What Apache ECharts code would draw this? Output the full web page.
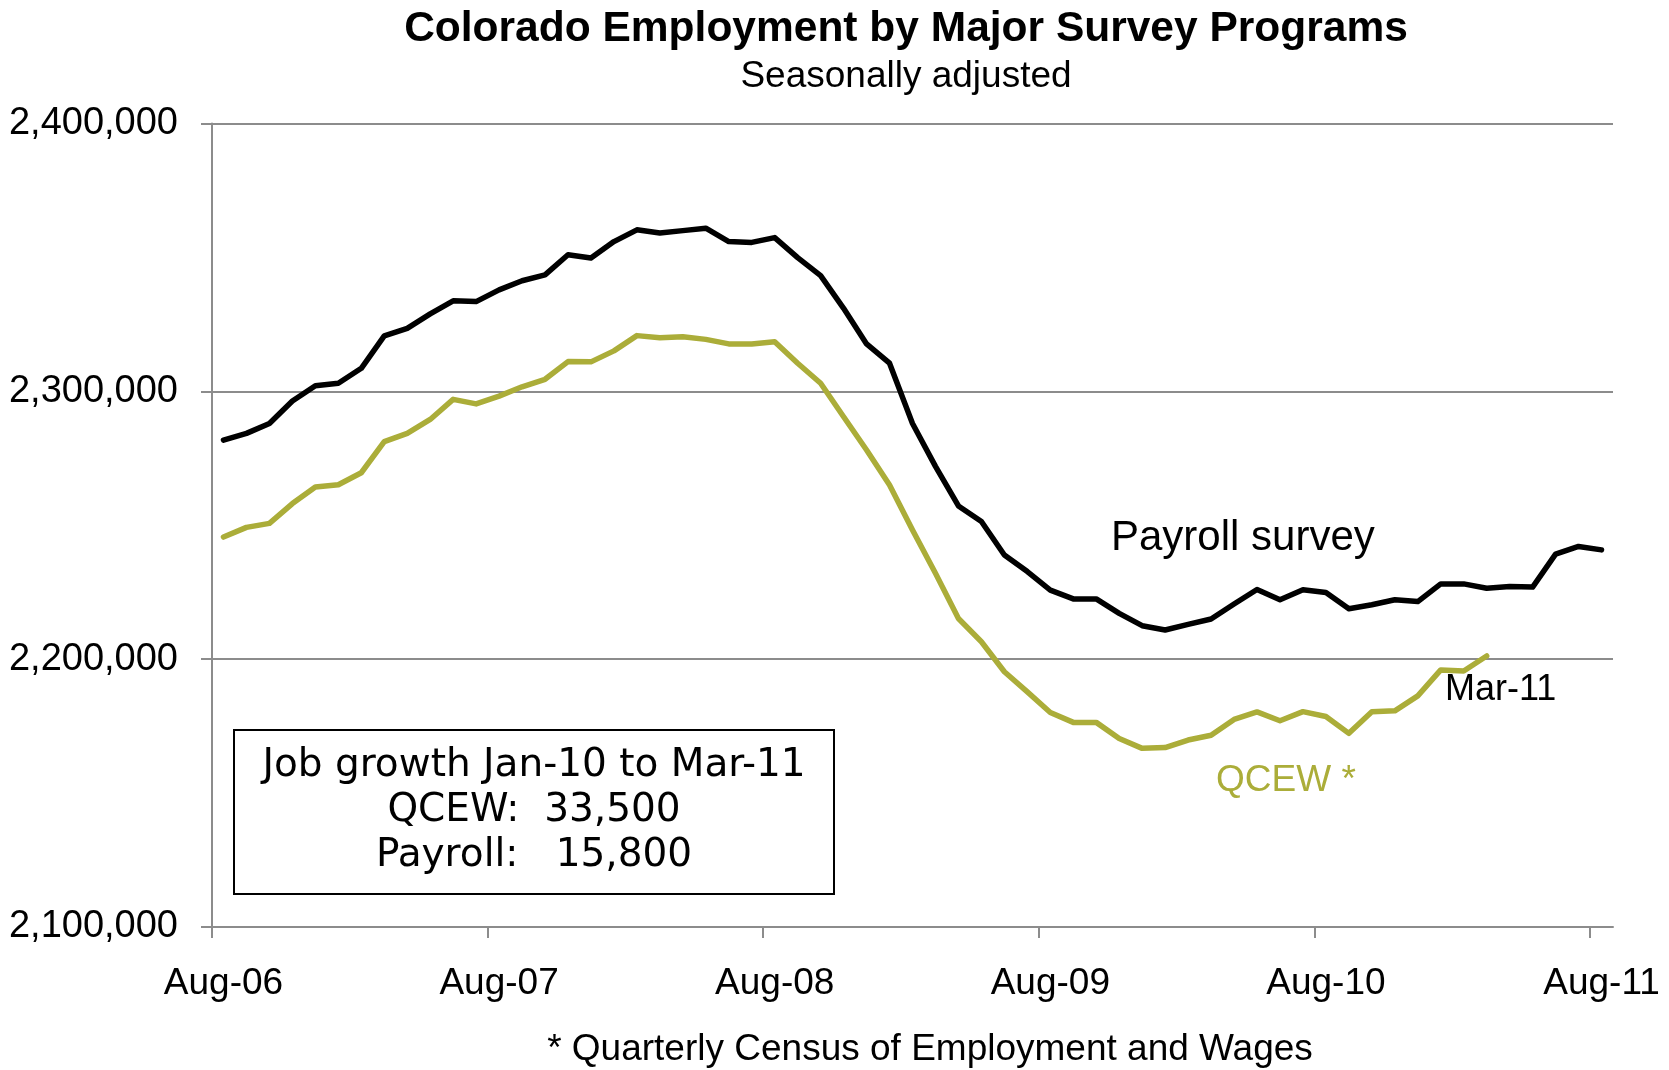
<!DOCTYPE html>
<html>
<head>
<meta charset="utf-8">
<title>Colorado Employment by Major Survey Programs</title>
<script src="https://cdn.jsdelivr.net/npm/echarts@6/dist/echarts.min.js"></script>
<style>
  html, body { margin: 0; padding: 0; background: #fff; }
  #chart { width: 1669px; height: 1070px; }
</style>
</head>
<body>
<div id="chart"></div>
<script>
// Monthly, Aug-06 .. Aug-11 (payroll) and Aug-06 .. Mar-11 (QCEW)
const tickLabels = ['Aug-06', 'Aug-07', 'Aug-08', 'Aug-09', 'Aug-10', 'Aug-11'];
const tickMonths = [0, 12, 24, 36, 48, 60];
const monthCount = 61;

const payroll = [
  2281800, 2284300, 2288000, 2296400, 2302100, 2303000, 2308600, 2320700, 2323500, 2328900, 2333800, 2333500,
  2337900, 2341300, 2343500, 2351000, 2349800, 2355900, 2360300, 2359100, 2360000, 2360900, 2355900, 2355600,
  2357400, 2349900, 2343200, 2331000, 2317700, 2310500, 2288000, 2272000, 2257200, 2251400, 2238900, 2232700,
  2225800, 2222500, 2222500, 2217100, 2212500, 2210900, 2213000, 2215000, 2220600, 2226000, 2222200, 2225900,
  2224900, 2218800, 2220300, 2222200, 2221500, 2228100, 2228100, 2226500, 2227100, 2226900, 2239200, 2242100,
  2240800
];

const qcew = [
  2245600, 2249200, 2250700, 2258100, 2264300, 2265100, 2269600, 2281200, 2284300, 2289500, 2297000, 2295300,
  2298200, 2301700, 2304500, 2311100, 2311000, 2315100, 2320800, 2320000, 2320400, 2319400, 2317700, 2317700,
  2318500, 2310500, 2303000, 2290500, 2278100, 2265000, 2248200, 2232100, 2215200, 2206500, 2195300, 2187800,
  2180100, 2176400, 2176400, 2170400, 2166700, 2167000, 2169800, 2171600, 2177500, 2180300, 2177000, 2180400,
  2178600, 2172300, 2180400, 2180700, 2186300, 2196000, 2195600, 2201200
];

const boxLines = ['Job growth Jan-10 to Mar-11', 'QCEW:  33,500', 'Payroll:   15,800'];

const COLORS = {
  payroll: '#000000',
  qcew: '#abad39',
  grid: '#8c8c8c'
};
const FONT = 'Liberation Sans, Arial, sans-serif';

// points (and month labels) sit in the middle of each month slot
function toPoints(values) {
  return values.map(function (v, i) { return [i + 0.5, v]; });
}
const labelMonths = tickMonths.map(function (m) { return m + 0.5; });

const chart = echarts.init(document.getElementById('chart'), null, { renderer: 'canvas' });

const option = {
  backgroundColor: '#ffffff',
  animation: false,
  grid: { left: 212, right: 56, top: 123.5, bottom: 143, containLabel: false },
  xAxis: {
    type: 'value',
    min: 0,
    max: monthCount,
    axisLine: { show: true, onZero: false, lineStyle: { color: COLORS.grid, width: 2 } },
    axisTick: { show: true, length: 11, customValues: tickMonths, lineStyle: { color: COLORS.grid, width: 2 } },
    axisLabel: {
      customValues: labelMonths,
      margin: 38,
      color: '#000',
      fontFamily: FONT,
      fontSize: 37,
      formatter: function (v) { return tickLabels[Math.floor(v / 12)] || ''; }
    },
    splitLine: { show: false }
  },
  yAxis: {
    type: 'value',
    min: 2100000,
    max: 2400000,
    interval: 100000,
    axisLine: { show: true, lineStyle: { color: COLORS.grid, width: 2 } },
    axisTick: { show: true, length: 11, lineStyle: { color: COLORS.grid, width: 2 } },
    axisLabel: {
      margin: 34,
      color: '#000',
      fontFamily: FONT,
      fontSize: 38,
      padding: [6, 0, 0, 0],
      formatter: function (v) { return v.toLocaleString('en-US'); }
    },
    splitLine: { show: true, lineStyle: { color: COLORS.grid, width: 2 } }
  },
  series: [
    {
      name: 'QCEW',
      type: 'line',
      data: toPoints(qcew),
      symbol: 'none',
      lineStyle: { color: COLORS.qcew, width: 5.5, join: 'round', cap: 'round' },
      itemStyle: { color: COLORS.qcew },
      z: 3
    },
    {
      name: 'Payroll survey',
      type: 'line',
      data: toPoints(payroll),
      symbol: 'none',
      lineStyle: { color: COLORS.payroll, width: 5.5, join: 'round', cap: 'round' },
      itemStyle: { color: COLORS.payroll },
      z: 4
    }
  ],
  graphic: [
    {
      type: 'text', x: 906, y: 29,
      style: { text: 'Colorado Employment by Major Survey Programs', fill: '#000',
        font: 'bold 42.5px ' + FONT, align: 'center', verticalAlign: 'middle' }
    },
    {
      type: 'text', x: 906, y: 77,
      style: { text: 'Seasonally adjusted', fill: '#000',
        font: '37px ' + FONT, align: 'center', verticalAlign: 'middle' }
    },
    {
      type: 'text', x: 1111, y: 538, z: 10,
      style: { text: 'Payroll survey', fill: '#000',
        font: '42px ' + FONT, align: 'left', verticalAlign: 'middle' }
    },
    {
      type: 'text', x: 1445, y: 690, z: 10,
      style: { text: 'Mar-11', fill: '#000',
        font: '36px ' + FONT, align: 'left', verticalAlign: 'middle' }
    },
    {
      type: 'text', x: 1216, y: 781, z: 10,
      style: { text: 'QCEW *', fill: COLORS.qcew,
        font: '37px ' + FONT, align: 'left', verticalAlign: 'middle' }
    },
    {
      type: 'group', left: 233, top: 729, z: 10,
      children: [
        {
          type: 'rect',
          shape: { x: 0, y: 0, width: 600, height: 164 },
          style: { fill: '#ffffff', stroke: '#000', lineWidth: 2 }
        },
        {
          type: 'text', x: 300, y: 81,
          style: { text: boxLines.join('\n'), fill: '#000', lineHeight: 45,
            font: '39px "DejaVu Sans", Verdana, sans-serif', align: 'center', verticalAlign: 'middle' }
        }
      ]
    },
    {
      type: 'text', x: 930, y: 1050,
      style: { text: '* Quarterly Census of Employment and Wages', fill: '#000',
        font: '37px ' + FONT, align: 'center', verticalAlign: 'middle' }
    }
  ]
};

chart.setOption(option);
</script>
</body>
</html>
